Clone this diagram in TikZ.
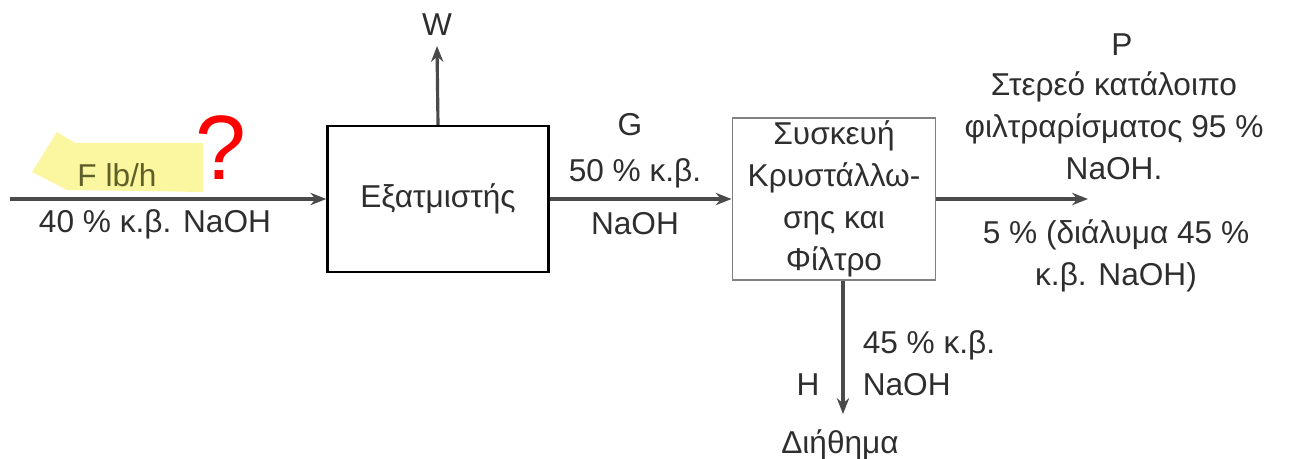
\documentclass[tikz,border=0pt]{standalone}
\usepackage{fontspec}
\setmainfont{Liberation Sans}
\usetikzlibrary{arrows.meta,positioning}

\definecolor{linegray}{HTML}{4A4A4A}
\definecolor{textgray}{HTML}{2E2E2E}
\definecolor{hiyellow}{RGB}{250,247,160}
\definecolor{hitext}{RGB}{95,95,40}

\begin{document}
\begin{tikzpicture}[
    x=0.02cm, y=-0.02cm,
    unit/.style={rectangle, draw=black, line width=1.4pt, minimum width=4.42cm, minimum height=2.92cm, inner sep=0pt, font=\fontsize{18}{24}\selectfont, text=textgray},
    filterbox/.style={rectangle, draw=gray, line width=1.1pt, minimum width=4.06cm, minimum height=3.24cm, inner sep=0pt, align=center, font=\fontsize{18}{24}\selectfont, text=textgray},
    lbl/.style={font=\fontsize{18}{24}\selectfont, text=textgray, inner sep=0pt, align=center},
    arrow/.style={-{Stealth[length=9pt,width=7pt]}, draw=linegray, line width=1.8pt}
]
    \useasboundingbox (0,0) rectangle (1291,459);

    % highlighted feed label
    \fill[hiyellow] (57,132) -- (75,143) -- (203,143) -- (203,192) -- (67,190) -- (32,172) -- cycle;
    \node[lbl, text=hitext] (flabel) at (117,175) {F lb/h};
    \node[text=red, font=\fontsize{52}{52}\selectfont, inner sep=0pt] (qmark) at (221,148) {?};

    % Evaporator
    \node[unit] (evap) at (438,199) {Εξατμιστής};

    % Crystallizer and filter
    \node[filterbox] (cryst) at (834,199) {Συσκευή\\Κρυστάλλω-\\σης και\\Φίλτρο};

    % free ends
    \coordinate (feedin) at (10,199);
    \coordinate (wout) at (437,46);
    \coordinate (pout) at (1088,199);
    \coordinate (hout) at (843,414);

    % Connections
    \draw[arrow] (feedin) -- (evap.west);
    \draw[arrow] (evap.north) -- (wout);
    \draw[arrow] (evap.east) -- (cryst.west);
    \draw[arrow] (cryst.east) -- (pout);
    \draw[arrow] (cryst.south -| hout) -- (hout);

    % Stream labels
    \node[lbl] (fcomp) at (155,224) {40 \% κ.β. NaOH};
    \node[lbl] (wlabel) at (437,25) {W};
    \node[lbl] (glabel) at (630,125) {G};
    \node[lbl] (gcomp) at (635,197) {50 \% κ.β.\\[6pt]NaOH};
    \node[lbl] (plabel) at (1122,45) {P};
    \node[lbl] (pcomp) at (1114,126) {Στερεό κατάλοιπο\\φιλτραρίσματος 95 \%\\NaOH.};
    \node[lbl] (pliq) at (1116,256) {5 \% (διάλυμα 45 \%\\κ.β. NaOH)};
    \node[lbl] (hlabel) at (808,385) {H};
    \node[lbl, align=left] (hcomp) at (929,363) {45 \% κ.β.\\NaOH};
    \node[lbl] (hname) at (840,445) {Διήθημα};
\end{tikzpicture}
\end{document}
